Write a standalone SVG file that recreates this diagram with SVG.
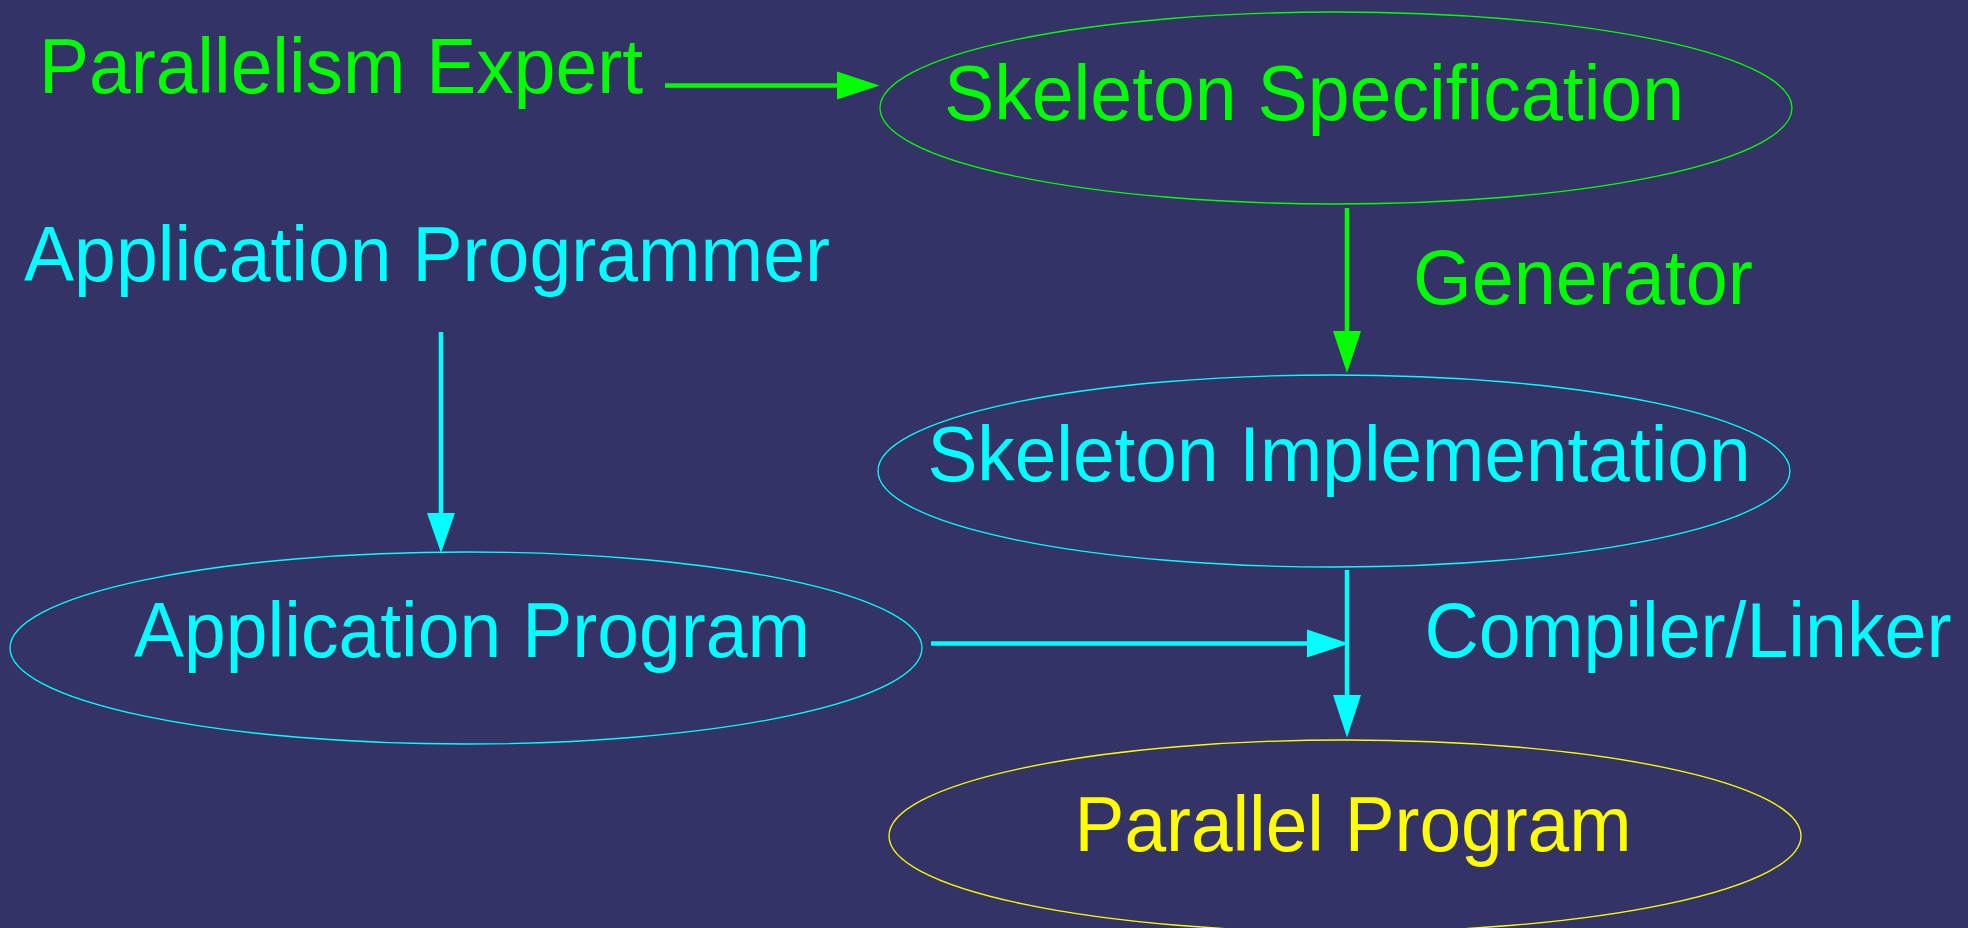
<svg xmlns="http://www.w3.org/2000/svg" width="1968" height="928" viewBox="0 0 1968 928">
  <style>
    text { font-family: "Liberation Sans", Arial, Helvetica, sans-serif; font-size: 77px; text-anchor: middle; }
    .green { fill: #00ff00; }
    .cyan { fill: #00ffff; }
    .yellow { fill: #ffff00; }
    ellipse { fill: none; stroke-width: 1.3; }
    .edge-green { stroke: #00ff00; stroke-width: 4.5; fill: none; }
    .edge-cyan { stroke: #00ffff; stroke-width: 4.5; fill: none; }
    .head-green { fill: #00ff00; stroke: none; }
    .head-cyan { fill: #00ffff; stroke: none; }
  </style>

  <rect x="0" y="0" width="1968" height="928" fill="#333366"/>

  <!-- Actors (free labels) -->
  <g id="parallelism-expert">
    <text class="green" x="341" y="93" textLength="604" lengthAdjust="spacingAndGlyphs">Parallelism Expert</text>
  </g>
  <g id="application-programmer">
    <text class="cyan" x="427" y="281" textLength="806" lengthAdjust="spacingAndGlyphs">Application Programmer</text>
  </g>

  <!-- Artefacts -->
  <g id="skeleton-specification">
    <ellipse cx="1336" cy="108" rx="456" ry="96" stroke="#00ff00"/>
    <text class="green" x="1314" y="120" textLength="740" lengthAdjust="spacingAndGlyphs">Skeleton Specification</text>
  </g>
  <g id="skeleton-implementation">
    <ellipse cx="1334" cy="471" rx="456" ry="96" stroke="#00ffff"/>
    <text class="cyan" x="1339" y="481" textLength="823" lengthAdjust="spacingAndGlyphs">Skeleton Implementation</text>
  </g>
  <g id="application-program">
    <ellipse cx="466" cy="648" rx="456" ry="96" stroke="#00ffff"/>
    <text class="cyan" x="472" y="657" textLength="676" lengthAdjust="spacingAndGlyphs">Application Program</text>
  </g>
  <g id="parallel-program">
    <ellipse cx="1345" cy="836" rx="456" ry="96" stroke="#ffff00"/>
    <text class="yellow" x="1353" y="851" textLength="557" lengthAdjust="spacingAndGlyphs">Parallel Program</text>
  </g>

  <!-- Process labels -->
  <g id="generator">
    <text class="green" x="1583" y="304" textLength="340" lengthAdjust="spacingAndGlyphs">Generator</text>
  </g>
  <g id="compiler-linker">
    <text class="cyan" x="1688" y="657" textLength="527" lengthAdjust="spacingAndGlyphs">Compiler/Linker</text>
  </g>

  <!-- Connectors -->
  <g id="connectors">
    <!-- expert writes specification -->
    <line class="edge-green" x1="665" y1="85.5" x2="838" y2="85.5"/>
    <polygon class="head-green" points="837,71.5 879.5,85.5 837,99.5"/>

    <!-- generator: specification to implementation -->
    <line class="edge-green" x1="1347" y1="208" x2="1347" y2="332"/>
    <polygon class="head-green" points="1333,331 1347,373 1361,331"/>

    <!-- programmer writes application program -->
    <line class="edge-cyan" x1="441" y1="332" x2="441" y2="514"/>
    <polygon class="head-cyan" points="427,513 441,553 455,513"/>

    <!-- application program joins the compile/link step -->
    <line class="edge-cyan" x1="931" y1="643.5" x2="1308" y2="643.5"/>
    <polygon class="head-cyan" points="1307,629.5 1349,643.5 1307,657.5"/>

    <!-- compiler/linker: implementation to parallel program -->
    <line class="edge-cyan" x1="1347" y1="570" x2="1347" y2="696"/>
    <polygon class="head-cyan" points="1333,695 1347,737.5 1361,695"/>
  </g>
</svg>
